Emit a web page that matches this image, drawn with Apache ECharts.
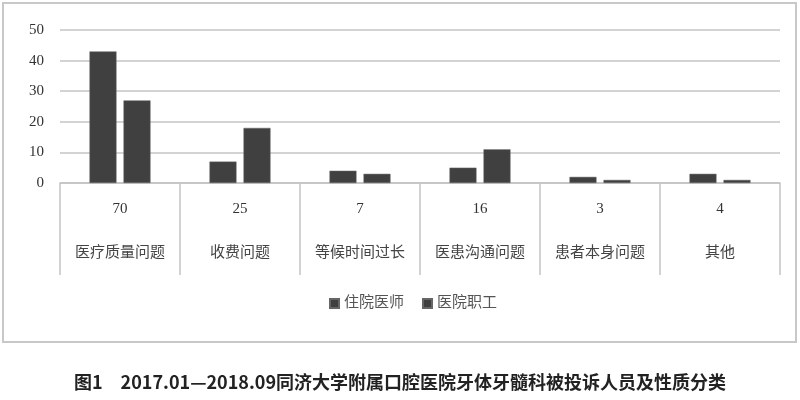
<!DOCTYPE html>
<html>
<head>
<meta charset="utf-8">
<script src="https://cdn.jsdelivr.net/npm/echarts@6/dist/echarts.min.js"></script>
<style>
  html, body { margin: 0; padding: 0; background: #fff; }
  #chart { width: 800px; height: 400px; }
</style>
</head>
<body>
<div id="chart"></div>
<script>
// 投诉性质分类
const categories = ['医疗质量问题', '收费问题', '等候时间过长', '医患沟通问题', '患者本身问题', '其他']
const seriesNames = ['住院医师', '医院职工']
const residentValues = [43, 7, 4, 5, 2, 3]
const staffValues = [27, 18, 3, 11, 1, 1]
const yTicks = [0, 10, 20, 30, 40, 50]

const caption = '图1\u30002017.01—2018.09同济大学附属口腔医院牙体牙髓科被投诉人员及性质分类'
const serif = '"Liberation Serif", "DejaVu Serif", "Noto Sans CJK SC", serif'
const barColor = '#404040'
const lineColor = '#c4c4c4'

// 合计 = 两组之和，显示在表格行里
const totals = categories.map((_, i) => residentValues[i] + staffValues[i])

const chart = echarts.init(document.getElementById('chart'))

chart.setOption({
  animation: false,
  title: {
    text: caption,
    left: 'center',
    top: 368,
    textStyle: {
      fontFamily: '"Noto Sans CJK SC", sans-serif',
      fontSize: 18,
      fontWeight: 'bold',
      color: '#222',
    },
  },
  graphic: [{
    type: 'rect',
    shape: { x: 3, y: 3, width: 793, height: 339 },
    style: { fill: 'none', stroke: '#c8c8c8', lineWidth: 2 },
    silent: true,
  }],
  legend: {
    data: seriesNames,
    left: 324,
    top: 291,
    itemWidth: 9,
    itemHeight: 9,
    itemGap: 18,
    icon: 'rect',
    textStyle: { fontFamily: serif, fontSize: 15, color: '#555' },
  },
  grid: { left: 60, right: 20, top: 30, height: 153 },
  xAxis: {
    type: 'category',
    data: categories,
    axisLine: { lineStyle: { color: lineColor, width: 1.5 } },
    axisTick: { show: true, length: 92, lineStyle: { color: lineColor, width: 1.5 } },
    axisLabel: {
      margin: 4,
      interval: 0,
      formatter: (name, i) => '{n|' + totals[i] + '}\n{c|' + name + '}',
      rich: {
        n: { fontFamily: serif, fontSize: 15, color: '#333', lineHeight: 44 },
        c: { fontFamily: serif, fontSize: 15, color: '#444', lineHeight: 44 },
      },
    },
  },
  yAxis: {
    type: 'value',
    min: yTicks[0],
    max: yTicks[yTicks.length - 1],
    interval: 10,
    axisLine: { show: false },
    axisTick: { show: false },
    axisLabel: { fontFamily: serif, fontSize: 15, color: '#333', margin: 16 },
    splitLine: { lineStyle: { color: lineColor, width: 1.5 } },
  },
  series: [
    {
      name: seriesNames[0],
      type: 'bar',
      data: residentValues,
      barWidth: 27,
      barGap: '26%',
      itemStyle: { color: barColor, borderColor: '#666', borderWidth: 0.5 },
    },
    {
      name: seriesNames[1],
      type: 'bar',
      data: staffValues,
      barWidth: 27,
      itemStyle: { color: barColor, borderColor: '#666', borderWidth: 0.5 },
    },
  ],
})
</script>
</body>
</html>
